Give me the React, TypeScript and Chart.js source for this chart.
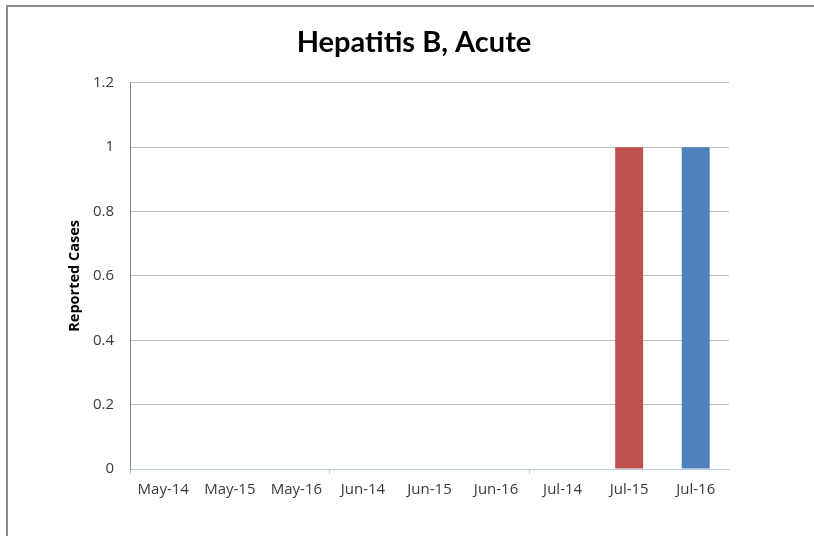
import React, { useEffect, useRef } from "react";
import { Chart, registerables } from "chart.js";

Chart.register(...registerables);

const categories = ["May-14", "May-15", "May-16", "Jun-14", "Jun-15", "Jun-16", "Jul-14", "Jul-15", "Jul-16"];
const reportedCases = [0, 0, 0, 0, 0, 0, 0, 1, 1];
const yearColors: Record<string, string> = { "14": "#9bbb59", "15": "#c0504d", "16": "#4f81bd" };
const yTicks = [0, 0.2, 0.4, 0.6, 0.8, 1, 1.2];

export default function App() {
  const ref = useRef<HTMLCanvasElement | null>(null);

  useEffect(() => {
    document.body.style.margin = "0";
    if (!ref.current) return;
    const titleFont = "Lato, 'Noto Sans', sans-serif";
    const axisFont = "'Open Sans', 'Noto Sans', sans-serif";
    const chart = new Chart(ref.current, {
      type: "bar",
      data: {
        labels: categories,
        datasets: [
          {
            label: "Reported Cases",
            data: reportedCases,
            backgroundColor: categories.map((c) => yearColors[c.slice(-2)]),
            barPercentage: 0.42,
            categoryPercentage: 1,
          },
        ],
      },
      options: {
        animation: false,
        responsive: false,
        layout: { padding: { top: 0, right: 0, bottom: 0, left: 14 } },
        plugins: {
          legend: { display: false },
          tooltip: { enabled: false },
          title: {
            display: true,
            text: "Hepatitis B, Acute",
            color: "#000000",
            font: { family: titleFont, size: 29, weight: "bold" },
            padding: { top: 25, bottom: 23 },
          },
        },
        scales: {
          x: {
            offset: true,
            grid: {
              offset: true,
              drawOnChartArea: false,
              drawTicks: true,
              tickLength: 5,
              tickColor: (ctx: any) => (ctx.index % 3 === 0 ? "#b9cde5" : "rgba(0,0,0,0)"),
              color: "rgba(0,0,0,0)",
            },
            border: { display: true, color: "#b9cde5", width: 1 },
            ticks: {
              color: "#3a3a3a",
              font: { family: axisFont, size: 15 },
              padding: 7,
              maxRotation: 0,
              autoSkip: false,
            },
            afterFit: (scale: any) => {
              scale.height = 67;
            },
          },
          y: {
            min: 0,
            max: 1.2,
            afterBuildTicks: (scale: any) => {
              scale.ticks = yTicks.map((v) => ({ value: v }));
            },
            grid: { color: "#bfbfbf", drawTicks: false, lineWidth: 1 },
            border: { display: true, color: "#868686", width: 1 },
            ticks: {
              color: "#3a3a3a",
              font: { family: axisFont, size: 15 },
              padding: 16,
              callback: (v: any) => String(Number(Number(v).toFixed(1))),
            },
            title: {
              display: true,
              text: "Reported Cases",
              color: "#000000",
              font: { family: axisFont, size: 14.5, weight: "bold" },
              padding: { top: 52, bottom: 0 },
            },
            afterFit: (scale: any) => {
              scale.width = 116;
            },
          },
          y2: {
            position: "right",
            display: true,
            grid: { display: false, drawTicks: false },
            border: { display: false },
            ticks: { display: false },
            afterFit: (scale: any) => {
              scale.width = 85;
            },
          },
        },
      },
    });
    return () => chart.destroy();
  }, []);

  return (
    <div style={{ position: "relative", width: 814, height: 536, background: "#ffffff", overflow: "hidden" }}>
      <div
        style={{
          position: "absolute",
          left: 6,
          top: 5,
          width: 820,
          height: 560,
          borderTop: "2px solid #8a8a8a",
          borderLeft: "2px solid #8a8a8a",
          boxSizing: "border-box",
        }}
      />
      <canvas ref={ref} width={814} height={536} style={{ position: "absolute", left: 0, top: 0, display: "block" }} />
    </div>
  );
}
